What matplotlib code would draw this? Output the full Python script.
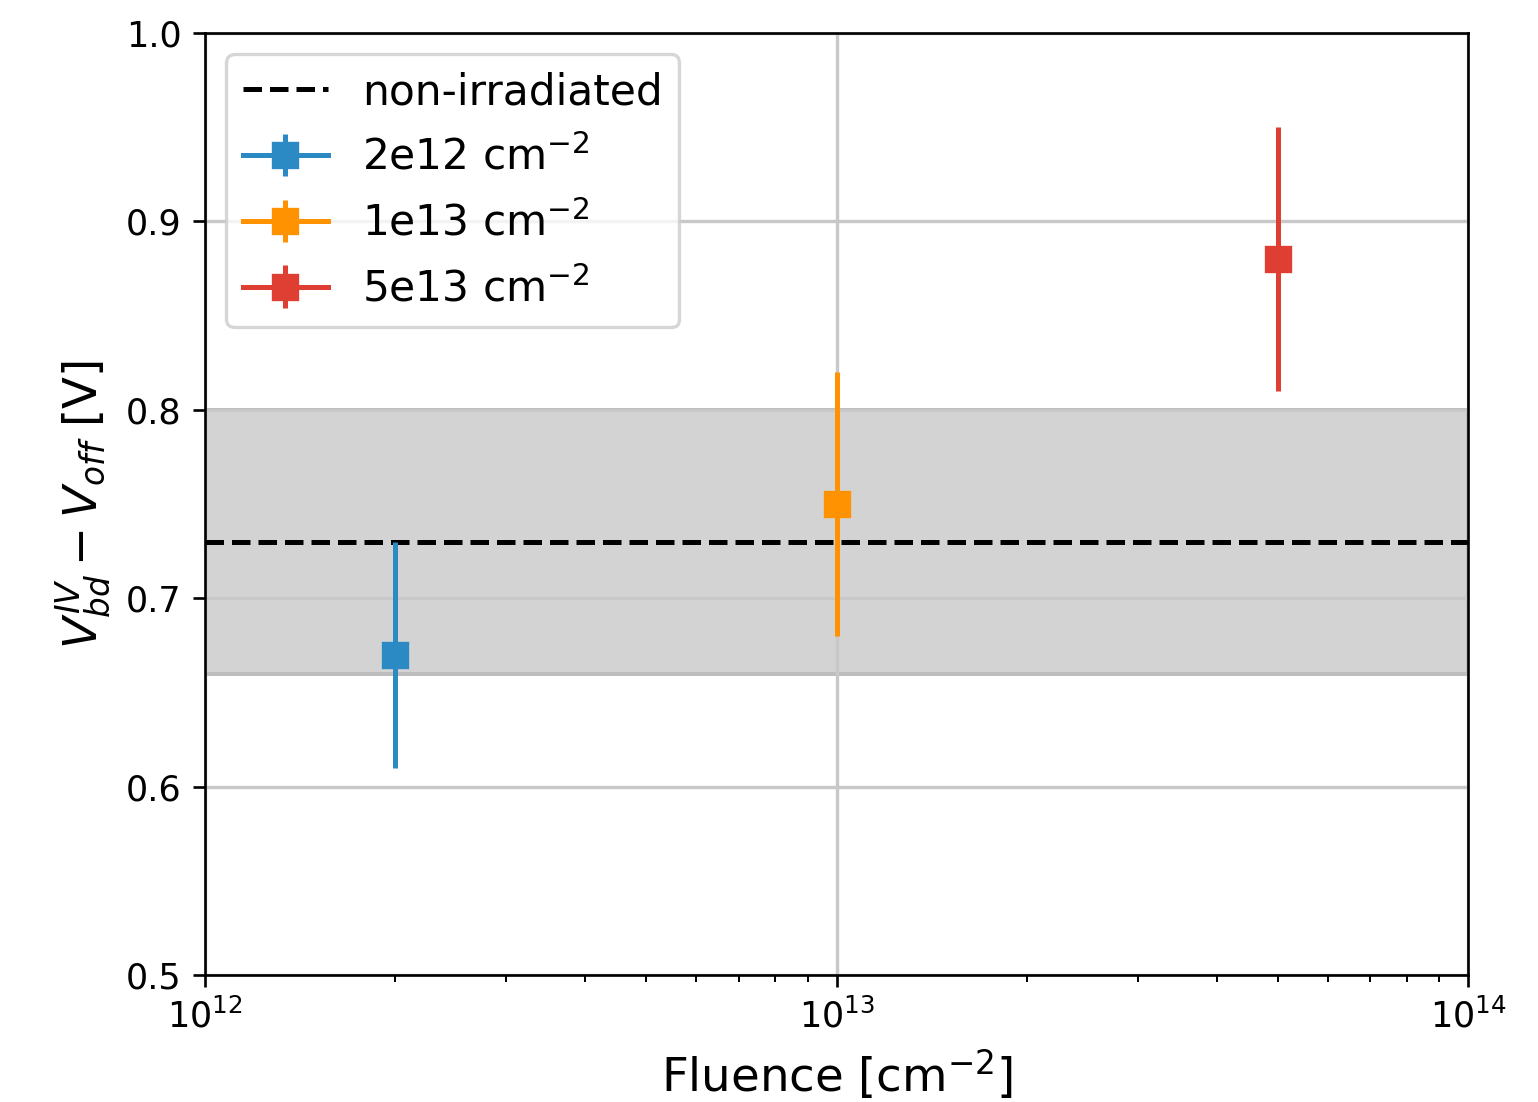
import numpy as np
import matplotlib
matplotlib.use("Agg")
import matplotlib.pyplot as plt

# Données
fluences = [2e12, 1e13, 5e13]
delta_v = [0.67, 0.75, 0.88]
delta_v_err = [0.06, 0.07, 0.07]
labels = [r"2e12 cm$^{-2}$", r"1e13 cm$^{-2}$", r"5e13 cm$^{-2}$"]
colors = ["#2b8ac4", "#ff9200", "#df3e32"]

# Référence non irradiée
ref_value = 0.73
ref_low = 0.66
ref_high = 0.80

fig = plt.figure(figsize=(1538 / 240, 1102 / 240), dpi=240)
ax = fig.add_axes([0.1333, 0.1152, 0.8212, 0.8549])

# Bande et ligne de référence
ax.fill_between([1e12, 1e14], ref_low, ref_high, facecolor="lightgray",
                edgecolor="#bdbdbd", linewidth=1.2)
ax.axhline(ref_value, color="black", linestyle="--", linewidth=1.5,
           label="non-irradiated")

# Points mesurés
for x, y, e, lab, c in zip(fluences, delta_v, delta_v_err, labels, colors):
    ax.errorbar([x], [y], yerr=[e], fmt="s-", color=c, markersize=7,
                linewidth=1.5, label=lab)

ax.set_xscale("log")
ax.set_xlim(1e12, 1e14)
ax.set_ylim(0.5, 1.0)
ax.set_yticks([0.5, 0.6, 0.7, 0.8, 0.9, 1.0])
ax.grid(True, which="major", color="#c8c8c8", linewidth=1.0)

ax.set_xlabel(r"Fluence [cm$^{-2}$]", fontsize=14)
ax.set_ylabel(r"$V_{bd}^{IV} - V_{off}$ [V]", fontsize=14)
ax.tick_params(labelsize=10.5)

ax.legend(loc="upper left", fontsize=12.7, labelspacing=0.55)

fig.savefig("out.png", dpi=240)
